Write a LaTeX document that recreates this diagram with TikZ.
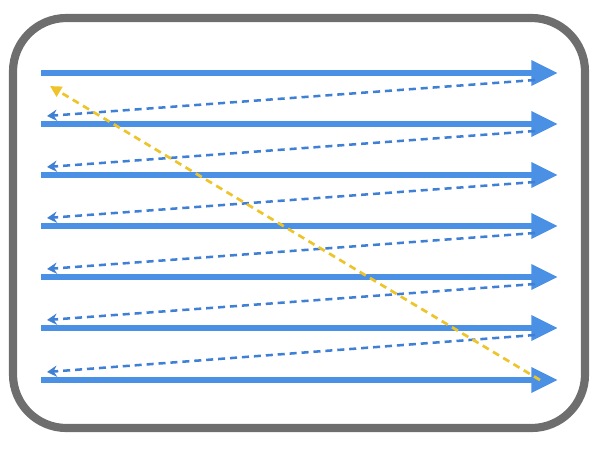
\documentclass[tikz,border=0pt]{standalone}
\usepackage{xcolor}
\usepackage{tikz}
\usetikzlibrary{arrows.meta, positioning}
\definecolor{scanblue}{HTML}{4A90E5}
\definecolor{backblue}{HTML}{3F7FD4}
\definecolor{diagyellow}{HTML}{EDC52A}
\definecolor{framegray}{HTML}{6E6E6E}

\begin{document}
\begin{tikzpicture}[x=0.025cm, y=-0.025cm,
    rowline/.style={draw=scanblue, line width=4.6pt,
      -{Triangle[length=19pt, width=17pt]}},
    backline/.style={draw=backblue, line width=1.8pt, dash pattern=on 5pt off 3.5pt,
      -{Stealth[length=7pt, width=8pt]}},
    diagline/.style={draw=diagyellow, line width=1.9pt, dash pattern=on 5pt off 3.5pt,
      -{Triangle[length=8pt, width=8pt]}}]
  \useasboundingbox (0,0) rectangle (610,448);
  % outer frame
  \draw[framegray, line width=5.8pt, rounded corners=38pt] (13,18) rectangle (585,428);
  % row end points
  \foreach \i/\y in {1/73,2/124,3/175,4/226,5/277,6/328,7/380} {
    \coordinate (L\i) at (41,\y);
    \coordinate (R\i) at (558,\y);
    \coordinate (B\i) at (535,\y+7);
    \coordinate (F\i) at (47,\y-8);
  }
  % solid rows
  \foreach \i in {1,...,7}
    \draw[rowline] (L\i) -- (R\i);
  % dashed returns
  \foreach \i [evaluate=\i as \j using int(\i+1)] in {1,...,6}
    \draw[backline] (B\i) -- (F\j);
  % diagonal back to start
  \coordinate (D1) at (540,380);
  \coordinate (D0) at (50,86);
  \draw[diagline] (D1) -- (D0);
\end{tikzpicture}
\end{document}
